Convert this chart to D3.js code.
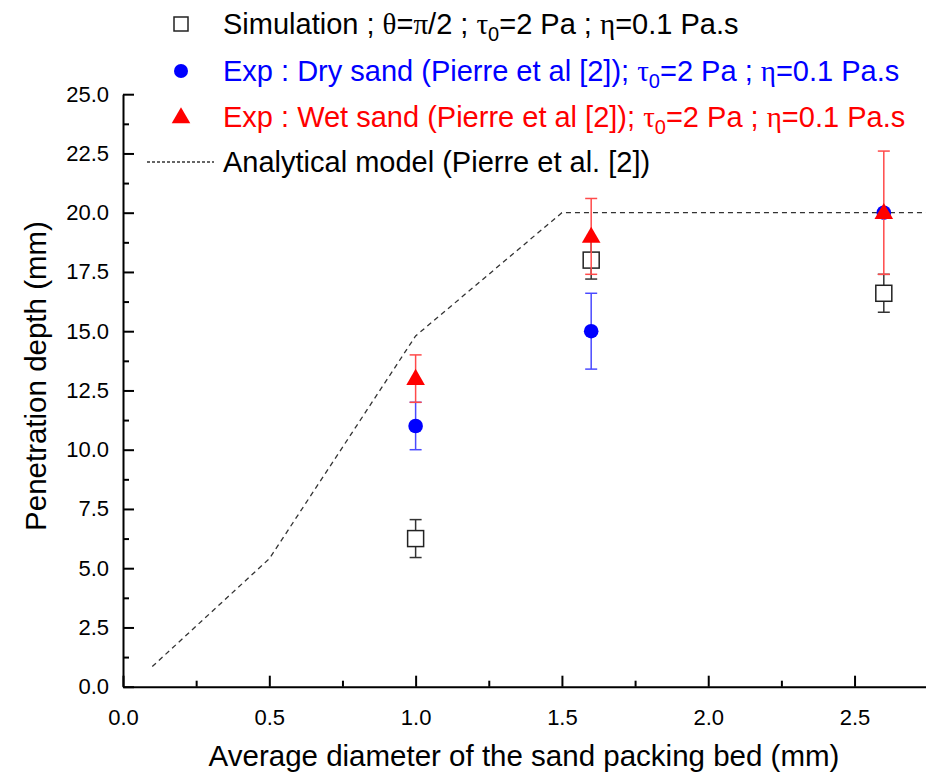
<!DOCTYPE html>
<html><head><meta charset="utf-8">
<script src="https://cdn.jsdelivr.net/npm/d3@7"></script>
<style>
body{margin:0;background:#fff}
svg{display:block}
text{font-family:"Liberation Sans",Arial,sans-serif;fill:#000}
.gr{font-family:"Liberation Serif","Times New Roman",serif}
</style>
</head><body>
<svg id="c" width="926" height="773"></svg>
<script>
// ---- data ----
const diameters = [1.0, 1.6, 2.6];
const simValues = [6.25, 18.0, 16.6];
const simErr    = [0.8, 0.8, 0.8];
const dryValues = [11.0, 15.0, 20.0];
const dryErr    = [1.0, 1.6, 0];
const wetValues = [13.0, 19.0, 20.0];
const wetErr    = [1.0, 1.6, 2.6];
const modelX = [0.1, 0.5, 1.0, 1.5, 2.75];
const modelY = [0.85, 5.4, 14.8, 20.0, 20.0];
const xTickValues = [0, 0.5, 1.0, 1.5, 2.0, 2.5];
const yTickValues = [0, 2.5, 5, 7.5, 10, 12.5, 15, 17.5, 20, 22.5, 25];
const xMinorTicks = [0.25, 0.75, 1.25, 1.75, 2.25, 2.75];
const yMinorTicks = [1.25, 3.75, 6.25, 8.75, 11.25, 13.75, 16.25, 18.75, 21.25, 23.75];

const svg = d3.select("#c");
const x = d3.scaleLinear().domain([0, 2.75]).range([123, 927.7]);
const y = d3.scaleLinear().domain([0, 25]).range([686.7, 94.2]);

// axes
const axisG = svg.append("g");
const xAxis = d3.axisBottom(x).tickValues(xTickValues).tickFormat(d3.format(".1f")).tickSizeInner(-11).tickSizeOuter(0).tickPadding(23);
const gx = axisG.append("g").attr("transform", `translate(0,${y(0)})`).call(xAxis);
const xMin = d3.axisBottom(x).tickValues(xMinorTicks).tickFormat("").tickSizeInner(-6).tickSizeOuter(0);
axisG.append("g").attr("transform", `translate(0,${y(0)})`).call(xMin).select(".domain").remove();
const yAxis = d3.axisLeft(y).tickValues(yTickValues).tickFormat(d3.format(".1f")).tickSizeInner(-11).tickSizeOuter(0).tickPadding(14);
const gy = axisG.append("g").attr("transform", `translate(${x(0)},0)`).call(yAxis);
const yMin = d3.axisLeft(y).tickValues(yMinorTicks).tickFormat("").tickSizeInner(-6).tickSizeOuter(0);
axisG.append("g").attr("transform", `translate(${x(0)},0)`).call(yMin).select(".domain").remove();
axisG.selectAll(".domain").attr("stroke", "#000").attr("stroke-width", 2);
axisG.selectAll(".tick line").attr("stroke", "#000").attr("stroke-width", 2);
axisG.selectAll(".tick text").style("font-size", "22px").attr("fill", "#000");
gx.selectAll(".tick text").attr("dy", "0.71em");

// titles
svg.append("text").attr("x", 524).attr("y", 766).attr("text-anchor", "middle").style("font-size", "29.5px")
  .text("Average diameter of the sand packing bed (mm)");
svg.append("text").attr("transform", "translate(46,376) rotate(-90)").attr("text-anchor", "middle").style("font-size", "29.5px")
  .text("Penetration depth (mm)");

// analytical model
const line = d3.line().x((d, i) => x(modelX[i])).y((d, i) => y(modelY[i]));
svg.append("path").attr("d", line(modelX)).attr("fill", "none").attr("stroke", "#333")
  .attr("stroke-width", 1.3).attr("stroke-dasharray", "5,4");

// error bar helper
function errBars(vals, errs, color) {
  const g = svg.append("g").attr("stroke", color).attr("stroke-width", 1.5);
  diameters.forEach((d, i) => {
    if (!errs[i]) return;
    const cx = x(d), y1 = y(vals[i] - errs[i]), y2 = y(vals[i] + errs[i]);
    g.append("line").attr("x1", cx).attr("x2", cx).attr("y1", y1).attr("y2", y2);
    g.append("line").attr("x1", cx - 6).attr("x2", cx + 6).attr("y1", y1).attr("y2", y1);
    g.append("line").attr("x1", cx - 6).attr("x2", cx + 6).attr("y1", y2).attr("y2", y2);
  });
}
const tri = d3.symbol().type(d3.symbolTriangle).size(150);

// simulation
errBars(simValues, simErr, "#333");
svg.append("g").selectAll("rect").data(diameters).join("rect")
  .attr("x", d => x(d) - 8).attr("y", (d, i) => y(simValues[i]) - 8)
  .attr("width", 16).attr("height", 16).attr("fill", "#fff").attr("stroke", "#222").attr("stroke-width", 1.5);
// dry
errBars(dryValues, dryErr, "#4a4aff");
svg.append("g").selectAll("circle").data(diameters).join("circle")
  .attr("cx", d => x(d)).attr("cy", (d, i) => y(dryValues[i])).attr("r", 7.3).attr("fill", "#0000ff");
// wet
errBars(wetValues, wetErr, "#ff4a4a");
svg.append("g").selectAll("path").data(diameters).join("path")
  .attr("d", tri).attr("transform", (d, i) => `translate(${x(d)},${y(wetValues[i]) + 1})`).attr("fill", "#ff0000");

// legend
const lg = svg.append("g");
lg.append("rect").attr("x", 174).attr("y", 17).attr("width", 14).attr("height", 14).attr("fill", "#fff").attr("stroke", "#222").attr("stroke-width", 1.5);
lg.append("circle").attr("cx", 181).attr("cy", 71).attr("r", 7).attr("fill", "#0000ff");
lg.append("path").attr("d", tri).attr("transform", "translate(181,118)").attr("fill", "#ff0000");
lg.append("line").attr("x1", 147).attr("x2", 214).attr("y1", 162).attr("y2", 162).attr("stroke", "#333").attr("stroke-width", 1.3).attr("stroke-dasharray", "3,2");

function legendText(yy, color, parts) {
  const t = lg.append("text").attr("x", 223).attr("y", yy).style("font-size", "29px").attr("fill", color).style("fill", color);
  parts.forEach(p => {
    const s = t.append("tspan").text(p.t);
    if (p.g) s.attr("class", "gr");
    if (p.sub) s.attr("baseline-shift", "-35%").style("font-size", "20px");
  });
}
legendText(34, "#000", [{t: "Simulation ; "}, {t: "\u03b8", g: 1}, {t: "="}, {t: "\u03c0", g: 1}, {t: "/2 ; "}, {t: "\u03c4", g: 1}, {t: "0", sub: 1}, {t: "=2 Pa ; "}, {t: "\u03b7", g: 1}, {t: "=0.1 Pa.s"}]);
legendText(81, "#0000ff", [{t: "Exp : Dry sand (Pierre et al [2]); "}, {t: "\u03c4", g: 1}, {t: "0", sub: 1}, {t: "=2 Pa ; "}, {t: "\u03b7", g: 1}, {t: "=0.1 Pa.s"}]);
legendText(127, "#ff0000", [{t: "Exp : Wet sand (Pierre et al [2]); "}, {t: "\u03c4", g: 1}, {t: "0", sub: 1}, {t: "=2 Pa ; "}, {t: "\u03b7", g: 1}, {t: "=0.1 Pa.s"}]);
legendText(172, "#000", [{t: "Analytical model (Pierre et al. [2])"}]);
</script>
</body></html>
